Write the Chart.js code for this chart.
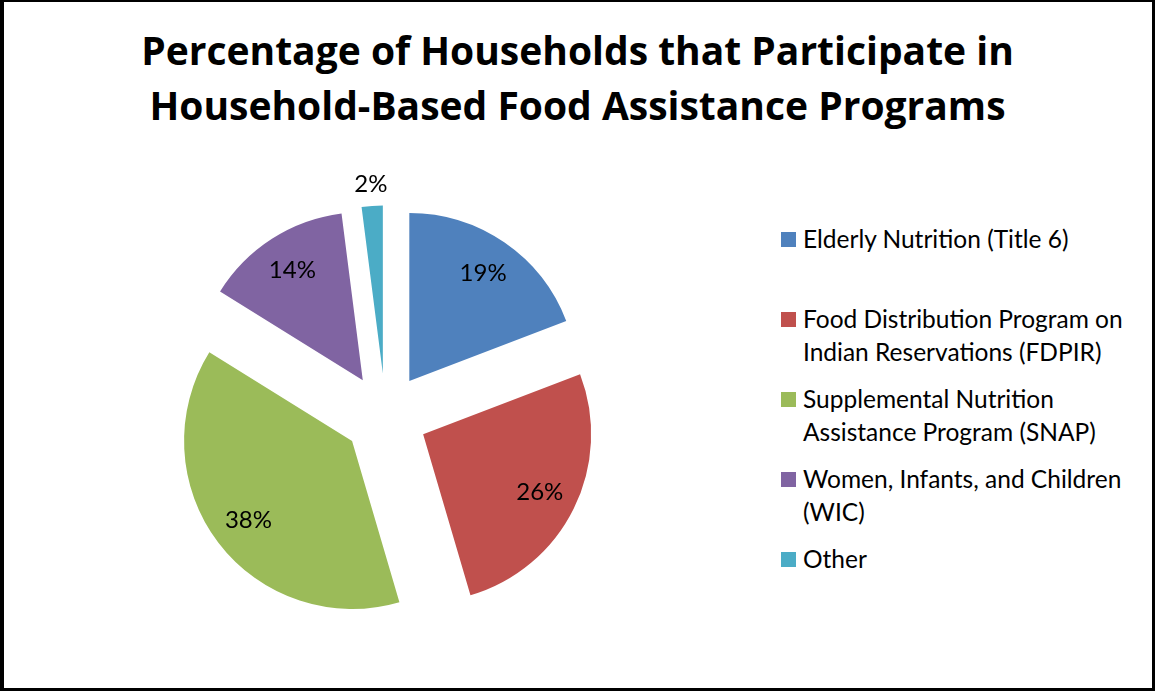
<!DOCTYPE html>
<html>
<head>
<meta charset="utf-8">
<title>Household-Based Food Assistance Programs</title>
<script src="https://cdn.jsdelivr.net/npm/chart.js@4.4.1/dist/chart.umd.min.js"></script>
<style>
    html, body { margin: 0; padding: 0; background: #fff; }
    #wrap { position: relative; width: 1155px; height: 691px; overflow: hidden; font-family: 'Lato', sans-serif; color: #000; }
    #frame {
        position: absolute; left: 0; top: 0; width: 1155px; height: 691px;
        box-sizing: border-box; border-style: solid; border-color: #000;
        border-width: 2px 3px 3px 4px; pointer-events: none;
    }
    #title {
        position: absolute; left: 0; top: 22px; width: 1155px;
        text-align: center; font-family: 'Open Sans', sans-serif;
        font-weight: bold; font-size: 39px; line-height: 55px;
    }
    #pieBox { position: absolute; left: 0; top: 140px; width: 771px; height: 551px; }
    #pieBox canvas { display: block; }
    #legend { position: absolute; left: 781px; top: 222px; }
    .entry { position: relative; height: 80px; padding-left: 22px; font-size: 24.5px; line-height: 33px; white-space: nowrap; }
    .swatch { position: absolute; left: 0; top: 10px; width: 15px; height: 15px; }
</style>
</head>
<body>
<div id="wrap">
    <div id="title"></div>
    <div id="pieBox"><canvas id="myChart" width="771" height="551"></canvas></div>
    <div id="legend"></div>
    <div id="frame"></div>
</div>
<script>
const titleLines = ['Percentage of Households that Participate in', 'Household-Based Food Assistance Programs'];

// each category keeps its legend line breaks
const categories = [
    ['Elderly Nutrition (Title 6)'],
    ['Food Distribution Program on', 'Indian Reservations (FDPIR)'],
    ['Supplemental Nutrition', 'Assistance Program (SNAP)'],
    ['Women, Infants, and Children', '(WIC)'],
    ['Other']
];
const percentages = [19, 26, 38, 14, 2];
const sliceColors = ['#4F81BD', '#C0504D', '#9BBB59', '#8064A2', '#4BACC6'];

let chart;

// pull every slice out from the centre along its own bisector
const explodeSlices = {
    id: 'explodeSlices',
    afterDatasetsUpdate(chart, args, opts) {
        chart.getDatasetMeta(0).data.forEach(arc => {
            const mid = (arc.startAngle + arc.endAngle) / 2;
            arc.x += Math.cos(mid) * opts.distance;
            arc.y += Math.sin(mid) * opts.distance;
        });
    }
};

// percentage text on each slice, small slices get it just outside the rim
const sliceLabels = {
    id: 'sliceLabels',
    afterDatasetsDraw(chart) {
        const ctx = chart.ctx;
        const total = percentages.reduce((a, b) => a + b, 0);
        ctx.save();
        ctx.font = '24px Lato';
        ctx.fillStyle = '#000';
        ctx.textAlign = 'center';
        ctx.textBaseline = 'middle';
        chart.getDatasetMeta(0).data.forEach((arc, i) => {
            const mid = (arc.startAngle + arc.endAngle) / 2;
            const dist = percentages[i] / total < 0.05 ? arc.outerRadius * 1.13 : arc.outerRadius * 0.775;
            ctx.fillText(percentages[i] + '%', arc.x + Math.cos(mid) * dist, arc.y + Math.sin(mid) * dist);
        });
        ctx.restore();
    }
};

function buildText() {
    document.getElementById('title').innerHTML = titleLines.join('<br>');

    const legend = document.getElementById('legend');
    categories.forEach((lines, i) => {
        const entry = document.createElement('div');
        entry.className = 'entry';
        const swatch = document.createElement('span');
        swatch.className = 'swatch';
        swatch.style.background = sliceColors[i];
        entry.appendChild(swatch);
        lines.forEach((line, j) => {
            if (j > 0) entry.appendChild(document.createElement('br'));
            entry.appendChild(document.createTextNode(line));
        });
        legend.appendChild(entry);
    });
}

function drawChart() {
    const ctx = document.getElementById('myChart').getContext('2d');
    chart = new Chart(ctx, {
        type: 'pie',
        data: {
            labels: categories.map(c => c.join(' ')),
            datasets: [{
                data: percentages,
                backgroundColor: sliceColors,
                borderWidth: 0
            }]
        },
        options: {
            responsive: false,
            animation: false,
            events: [],
            radius: 168,
            layout: { padding: 0 },
            plugins: {
                legend: { display: false },
                tooltip: { enabled: false },
                explodeSlices: { distance: 42 }
            }
        },
        plugins: [explodeSlices, sliceLabels]
    });
}

buildText();
document.fonts.load('24px Lato').then(drawChart, drawChart);
</script>
</body>
</html>
